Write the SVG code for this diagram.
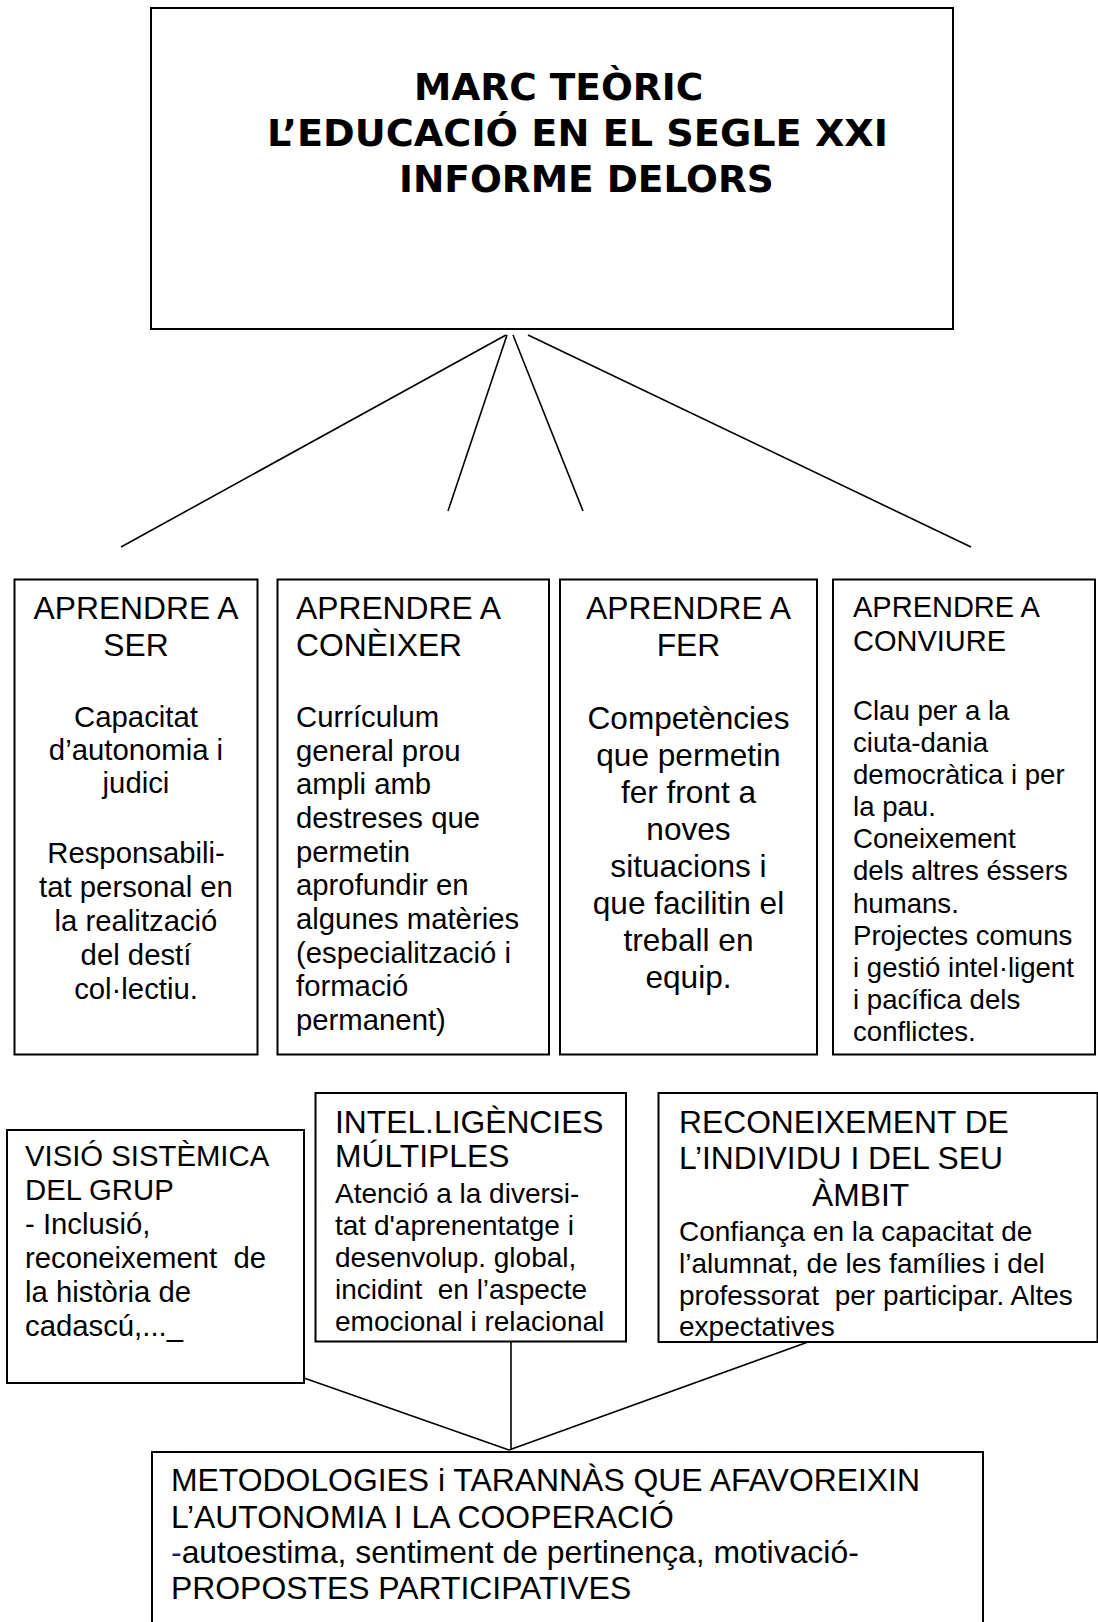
<svg xmlns="http://www.w3.org/2000/svg" width="1098" height="1622" viewBox="0 0 1098 1622">
<style>
.box{fill:#fff;stroke:#000;stroke-width:2}
.ln{stroke:#000;stroke-width:1.6;fill:none}
.t{font-family:"Liberation Sans",Arial,sans-serif;fill:#000}
.ttl{font-family:"DejaVu Sans",Verdana,sans-serif;font-weight:bold;font-size:37.5px;fill:#000}
.h31{font-size:31.8px}
.b29{font-size:29.3px}
.b315{font-size:31.6px}
.h28{font-size:28px}
.h4{font-size:29px}
.b27{font-size:27.6px}
.v285{font-size:29.3px}
.m32{font-size:31.9px}
.mid{text-anchor:middle}
</style>
<rect x="0" y="0" width="1098" height="1622" fill="#fff"/>
<g id="connectors">
<line class="ln" x1="506" y1="335" x2="121" y2="547"/>
<line class="ln" x1="507" y1="335" x2="448" y2="511"/>
<line class="ln" x1="513" y1="335" x2="583" y2="511"/>
<line class="ln" x1="528" y1="335" x2="971" y2="547"/>
<line class="ln" x1="304" y1="1378" x2="509" y2="1450"/>
<line class="ln" x1="511" y1="1342" x2="511" y2="1450"/>
<line class="ln" x1="808" y1="1342" x2="509" y2="1450"/>
<line x1="436" y1="1453" x2="507" y2="1453" stroke="#000" stroke-width="3.5"/>
</g>
<g id="node-marc">
<rect class="box" x="151" y="8" width="802" height="321"/>
<text class="ttl" x="414" y="100">MARC TEÒRIC</text>
<text class="ttl" x="267" y="146" textLength="621" lengthAdjust="spacingAndGlyphs">L’EDUCACIÓ EN EL SEGLE XXI</text>
<text class="ttl" x="399" y="192">INFORME DELORS</text>
</g>
<g id="node-ser">
<rect class="box" x="14.5" y="579.5" width="243" height="475"/>
<text class="t h31 mid" x="136" y="619">APRENDRE A</text>
<text class="t h31 mid" x="136" y="656">SER</text>
<text class="t b29 mid" x="136" y="727">Capacitat</text>
<text class="t b29 mid" x="136" y="760">d’autonomia i</text>
<text class="t b29 mid" x="136" y="793">judici</text>
<text class="t b29 mid" x="136" y="863">Responsabili-</text>
<text class="t b29 mid" x="136" y="897">tat personal en</text>
<text class="t b29 mid" x="136" y="931">la realització</text>
<text class="t b29 mid" x="136" y="965">del destí</text>
<text class="t b29 mid" x="136" y="999">col·lectiu.</text>
</g>
<g id="node-coneixer">
<rect class="box" x="277.5" y="579.5" width="271.5" height="475"/>
<text class="t h31" x="296" y="619">APRENDRE A</text>
<text class="t h31" x="296" y="656">CONÈIXER</text>
<text class="t b29" x="296" y="727">Currículum</text>
<text class="t b29" x="296" y="761">general prou</text>
<text class="t b29" x="296" y="794">ampli amb</text>
<text class="t b29" x="296" y="828">destreses que</text>
<text class="t b29" x="296" y="862">permetin</text>
<text class="t b29" x="296" y="895">aprofundir en</text>
<text class="t b29" x="296" y="929">algunes matèries</text>
<text class="t b29" x="296" y="963">(especialització i</text>
<text class="t b29" x="296" y="996">formació</text>
<text class="t b29" x="296" y="1030">permanent)</text>
</g>
<g id="node-fer">
<rect class="box" x="560" y="579.5" width="257" height="475"/>
<text class="t h31 mid" x="688.5" y="619">APRENDRE A</text>
<text class="t h31 mid" x="688.5" y="656">FER</text>
<text class="t b315 mid" x="688.5" y="729">Competències</text>
<text class="t b315 mid" x="688.5" y="766">que permetin</text>
<text class="t b315 mid" x="688.5" y="803">fer front a</text>
<text class="t b315 mid" x="688.5" y="840">noves</text>
<text class="t b315 mid" x="688.5" y="877">situacions i</text>
<text class="t b315 mid" x="688.5" y="914">que facilitin el</text>
<text class="t b315 mid" x="688.5" y="951">treball en</text>
<text class="t b315 mid" x="688.5" y="988">equip.</text>
</g>
<g id="node-conviure">
<rect class="box" x="833" y="579.5" width="262" height="475"/>
<text class="t h4" x="853" y="617">APRENDRE A</text>
<text class="t h4" x="853" y="651">CONVIURE</text>
<text class="t b27" x="853" y="720">Clau per a la</text>
<text class="t b27" x="853" y="752">ciuta-dania</text>
<text class="t b27" x="853" y="784">democràtica i per</text>
<text class="t b27" x="853" y="816">la pau.</text>
<text class="t b27" x="853" y="848">Coneixement</text>
<text class="t b27" x="853" y="880">dels altres éssers</text>
<text class="t b27" x="853" y="913">humans.</text>
<text class="t b27" x="853" y="945">Projectes comuns</text>
<text class="t b27" x="853" y="977">i gestió intel·ligent</text>
<text class="t b27" x="853" y="1009">i pacífica dels</text>
<text class="t b27" x="853" y="1041">conflictes.</text>
</g>
<g id="node-visio">
<rect class="box" x="7" y="1130" width="297" height="253"/>
<text class="t v285" x="25" y="1166">VISIÓ SISTÈMICA</text>
<text class="t v285" x="25" y="1200">DEL GRUP</text>
<text class="t v285" x="25" y="1234">- Inclusió,</text>
<text class="t v285" x="25" y="1268" xml:space="preserve">reconeixement  de</text>
<text class="t v285" x="25" y="1302">la història de</text>
<text class="t v285" x="25" y="1336">cadascú,..._</text>
</g>
<g id="node-intel">
<rect class="box" x="315.5" y="1093" width="310.5" height="248.5"/>
<text class="t h31" x="335" y="1133">INTEL.LIGÈNCIES</text>
<text class="t h31" x="335" y="1167">MÚLTIPLES</text>
<text class="t h28" x="335" y="1203">Atenció a la diversi-</text>
<text class="t h28" x="335" y="1235">tat d'aprenentatge i</text>
<text class="t h28" x="335" y="1267">desenvolup. global,</text>
<text class="t h28" x="335" y="1299" xml:space="preserve">incidint  en l’aspecte</text>
<text class="t h28" x="335" y="1331">emocional i relacional</text>
</g>
<g id="node-reconeixement">
<rect class="box" x="658.5" y="1093" width="439" height="249"/>
<text class="t h31" x="679" y="1133">RECONEIXEMENT DE</text>
<text class="t h31" x="679" y="1169">L’INDIVIDU I DEL SEU</text>
<text class="t h31" x="812" y="1206">ÀMBIT</text>
<text class="t h28" x="679" y="1241">Confiança en la capacitat de</text>
<text class="t h28" x="679" y="1273">l’alumnat, de les famílies i del</text>
<text class="t h28" x="679" y="1305" xml:space="preserve">professorat  per participar. Altes</text>
<text class="t h28" x="679" y="1336">expectatives</text>
</g>
<g id="node-metodologies">
<rect class="box" x="152" y="1452" width="831" height="200"/>
<text class="t m32" x="171" y="1491">METODOLOGIES i TARANNÀS QUE AFAVOREIXIN</text>
<text class="t m32" x="171" y="1528">L’AUTONOMIA I LA COOPERACIÓ</text>
<text class="t m32" x="171" y="1563"><tspan fill="#1a1a8c">-</tspan>autoestima, sentiment de pertinença, motivació-</text>
<text class="t m32" x="171" y="1599">PROPOSTES PARTICIPATIVES</text>
</g>
</svg>
